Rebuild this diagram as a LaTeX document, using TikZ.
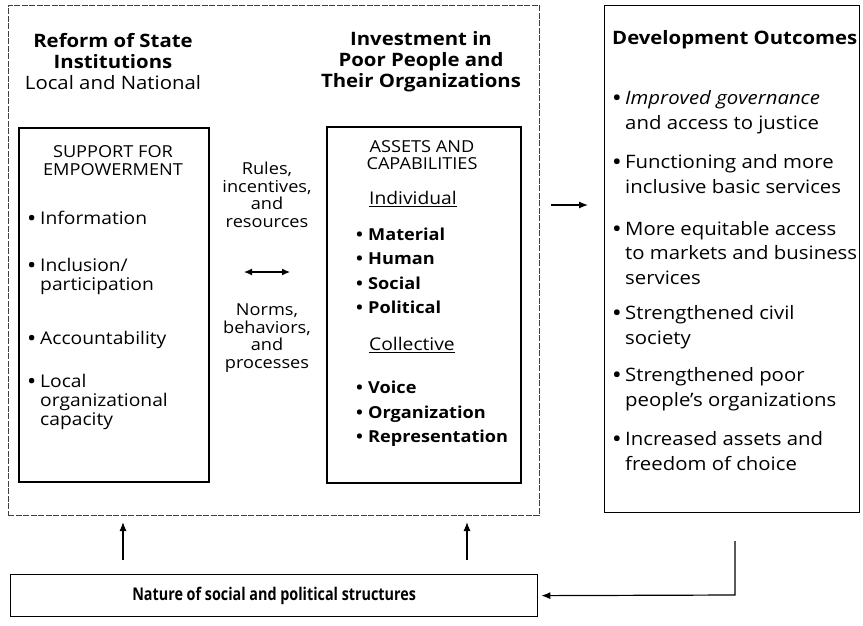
\documentclass[tikz,border=0pt]{standalone}
\usepackage{fontspec}
\setmainfont{Open Sans}[FakeStretch=1.1]
\usetikzlibrary{arrows.meta}
\newcommand\fhead{\fontsize{18.5}{21}\selectfont}
\newcommand\fout{\fontsize{18.5}{24.5}\selectfont}
\newcommand\fcap{\fontsize{16.5}{17.5}\selectfont}
\newcommand\fleft{\fontsize{17.5}{19}\selectfont}
\newcommand\fmid{\fontsize{16.5}{17.5}\selectfont}
\newcommand\fas{\fontsize{16.5}{24.5}\selectfont\bfseries}
\newcommand\bul{\makebox[12pt][l]{\textbf{•}}}
\newcommand\bulind{\hspace*{12pt}}
\begin{document}
\begin{tikzpicture}[x=1pt,y=-1pt,
 frame/.style={draw, line width=1.6pt, inner sep=0, anchor=north west},
 outerdash/.style={draw=black!75, line width=0.8pt, dash pattern=on 6pt off 1.5pt, inner sep=0, anchor=north west},
 txt/.style={inner sep=0, align=left, anchor=west},
 ctxt/.style={inner sep=0, align=center, anchor=center},
 arr/.style={line width=1.2pt, -{Latex[length=9pt,width=7pt]}},
 darr/.style={line width=1.2pt, {Latex[length=8pt,width=7pt]}-{Latex[length=8pt,width=7pt]}}]
\useasboundingbox (0,0) rectangle (863,625);
% boxes
\node[outerdash, minimum width=531pt, minimum height=510pt] (outerbox) at (8,5) {};
\node[frame, minimum width=190pt, minimum height=354pt] (support) at (18,127) {};
\node[frame, minimum width=194pt, minimum height=356pt] (assets) at (326,126) {};
\node[frame, line width=1.3pt, minimum width=255pt, minimum height=507pt] (outcomes) at (604,5) {};
\node[frame, line width=1.3pt, minimum width=527pt, minimum height=42pt] (nature) at (10,574) {};
% headings
\node[ctxt, font=\fhead] (h1) at (113,62) {\textbf{Reform of State}\\\textbf{Institutions}\\Local and National};
\node[ctxt, font=\fhead\bfseries] (h2) at (421,62) {Investment in\\Poor People and\\Their Organizations};
\node[txt, font=\fhead\bfseries] (h3) at (612,40) {Development Outcomes};
% outcomes list
\node[txt, font=\fout] (o1) at (613,112) {\bul\textit{Improved governance}\\\bulind and access to justice};
\node[txt, font=\fout] (o2) at (613,174) {\bul Functioning and more\\\bulind inclusive basic services};
\node[txt, font=\fout] (o3) at (613,253) {\bul More equitable access\\\bulind to markets and business\\\bulind services};
\node[txt, font=\fout] (o4) at (613,327) {\bul Strengthened civil\\\bulind society};
\node[txt, font=\fout] (o5) at (613,389) {\bul Strengthened poor\\\bulind people’s organizations};
\node[txt, font=\fout] (o6) at (613,451) {\bul Increased assets and\\\bulind freedom of choice};
% support box
\node[ctxt, font=\fcap] (st) at (113,160.5) {SUPPORT FOR\\EMPOWERMENT};
\node[txt, font=\fleft] (s1) at (28,218) {\bul Information};
\node[txt, font=\fleft] (s2) at (28,276.5) {\bul Inclusion/\\\bulind participation};
\node[txt, font=\fleft] (s3) at (28,340) {\bul Accountability};
\node[txt, font=\fleft] (s4) at (28,402) {\bul Local\\\bulind organizational\\\bulind capacity};
% middle
\node[ctxt, font=\fmid] (m1) at (267,195) {Rules,\\incentives,\\and\\resources};
\node[ctxt, font=\fmid] (m2) at (267,338) {Norms,\\behaviors,\\and\\processes};
% assets box
\node[ctxt, font=\fcap] (at) at (422,155) {ASSETS AND\\CAPABILITIES};
\node[txt, font=\fleft] (ai) at (369,199) {\underline{Individual}};
\node[txt, font=\fas] (a1) at (356,271) {\bul Material\\\bul Human\\\bul Social\\\bul Political};
\node[txt, font=\fleft] (ac) at (369,345) {\underline{Collective}};
\node[txt, font=\fas] (a2) at (356,414) {\bul Voice\\\bul Organization\\\bul Representation};
% bottom
\node[ctxt, font=\addfontfeatures{FakeStretch=0.82}\fontsize{17.5}{20}\selectfont\bfseries] (nt) at (nature.center) {Nature of social and political structures};
% connectors
\coordinate (r1) at (551,205);
\coordinate (r2) at (588,205);
\draw[arr] (r1) -- (r2);
\coordinate (d1) at (244,272);
\coordinate (d2) at (290,272);
\draw[darr] (d1) -- (d2);
\coordinate (u1a) at (123,560);
\coordinate (u1b) at (123,522);
\draw[arr] (u1a) -- (u1b);
\coordinate (u2a) at (467,560);
\coordinate (u2b) at (467,522);
\draw[arr] (u2a) -- (u2b);
\coordinate (f1) at (735,541);
\coordinate (f2) at (735,595);
\draw[arr] (f1) -- (f2) -- ([xshift=3pt]nature.east);
\end{tikzpicture}
\end{document}
